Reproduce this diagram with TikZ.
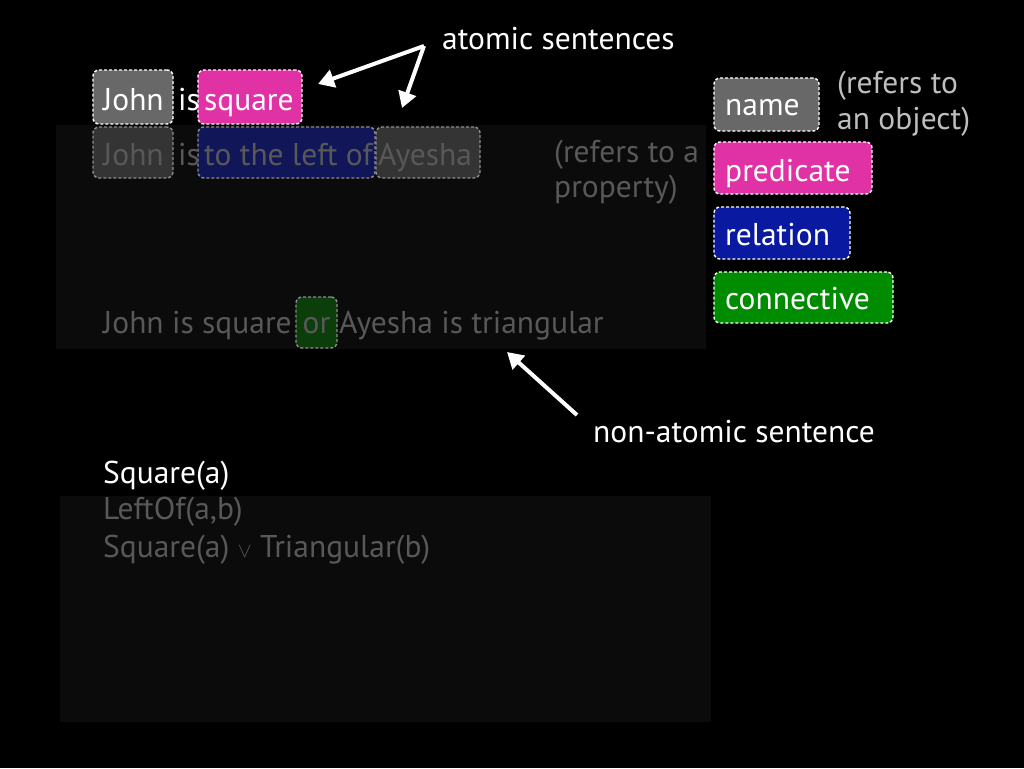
\documentclass[tikz,border=0pt]{standalone}
\usepackage{fontspec}
\setmainfont{PT Sans}
\usetikzlibrary{arrows.meta}
\definecolor{gbox}{RGB}{104,104,104}
\definecolor{mbox}{RGB}{224,50,165}
\definecolor{bbox}{RGB}{10,26,160}
\definecolor{grbox}{RGB}{0,140,0}
\definecolor{dgbox}{RGB}{52,52,52}
\definecolor{dbbox}{RGB}{16,22,88}
\definecolor{dgrbox}{RGB}{12,62,12}
\definecolor{dimtxt}{RGB}{88,88,88}
\definecolor{lighttxt}{RGB}{190,190,190}
\definecolor{panel}{RGB}{11,11,11}
\tikzset{
  txt/.style={font=\fontsize{31.5}{36}\selectfont, inner sep=0pt, anchor=base west},
  hibox/.style={draw=white, rounded corners=6pt, line width=1.4pt,
    dash pattern=on 3pt off 2pt, inner sep=0pt},
  lobox/.style={draw=gray!90, rounded corners=6pt, line width=1.4pt,
    dash pattern=on 3pt off 2pt, inner sep=0pt},
  arr/.style={white, line width=4pt, -{Triangle[length=16pt,width=18pt]}},
}
\begin{document}
\begin{tikzpicture}[x=1pt,y=-1pt]
\fill[black] (0,0) rectangle (1024,768);
\useasboundingbox (0,0) rectangle (1024,768);
\fill[panel] (56,125) rectangle (706,349);
\fill[panel] (60,496) rectangle (711,722);

% boxes
\node[hibox, fill=gbox, minimum width=80pt, minimum height=54pt] (bj1) at (133,97) {};
\node[hibox, fill=mbox, minimum width=104pt, minimum height=54pt] (bsq) at (250,97) {};
\node[lobox, fill=dgbox, minimum width=80pt, minimum height=51pt] (bj2) at (133,152.5) {};
\node[lobox, fill=dbbox, minimum width=177pt, minimum height=51pt] (blo) at (286.5,152.5) {};
\node[lobox, fill=dgbox, minimum width=104pt, minimum height=51pt] (bay) at (428,152.5) {};
\node[hibox, fill=gbox, minimum width=105pt, minimum height=53pt] (bname) at (766.5,104.5) {};
\node[hibox, fill=mbox, minimum width=158pt, minimum height=52pt] (bpred) at (793,168) {};
\node[hibox, fill=bbox, minimum width=136pt, minimum height=52pt] (brel) at (782,233) {};
\node[hibox, fill=grbox, minimum width=179pt, minimum height=51pt] (bcon) at (803.5,297.5) {};
\node[lobox, fill=dgrbox, minimum width=41pt, minimum height=51pt] (bor) at (316.5,322.5) {};

% top sentence
\node[txt, text=white] (j1) at (103,110) {John};
\node[txt, text=white] (is1) at (178,110) {is};
\node[txt, text=white] (sq) at (204,110) {square};

% second sentence
\node[txt, text=dimtxt] (j2) at (103,165) {John};
\node[txt, text=dimtxt] (is2) at (178,165) {is};
\node[txt, text=dimtxt] (lo) at (204,165) {to the left of};
\node[txt, text=dimtxt] (ay) at (378,165) {Ayesha};

\node[txt, text=dimtxt] (prop1) at (554,162) {(refers to a};
\node[txt, text=dimtxt] (prop2) at (554,197) {property)};

% legend
\node[txt, text=white] (name) at (725,115) {name};
\node[txt, text=lighttxt] (obj1) at (837,93) {(refers to};
\node[txt, text=lighttxt] (obj2) at (837,129) {an object)};
\node[txt, text=white] (pred) at (725,181) {predicate};
\node[txt, text=white] (rel) at (725,245) {relation};
\node[txt, text=white] (con) at (725,309) {connective};

% compound sentence
\node[txt, text=dimtxt] (comp1) at (103,333) {John is square};
\node[txt, text=dimtxt, anchor=base] (or) at (316.5,333) {or};
\node[txt, text=dimtxt] (comp2) at (339,333) {Ayesha is triangular};

% labels and arrows
\node[txt, text=white] (atomic) at (442,49) {atomic sentences};
\coordinate (apex) at (424,46);
\coordinate (t1) at (318,84);
\coordinate (t2) at (402,108);
\draw[arr] (apex) -- (t1);
\draw[arr] (apex) -- (t2);

\node[txt, text=white] (nonat) at (593,442) {non-atomic sentence};
\coordinate (s3) at (577,415);
\coordinate (t3) at (507,352);
\draw[arr] (s3) -- (t3);

% formulas
\node[txt, text=white] (f1) at (103,483) {Square(a)};
\node[txt, text=dimtxt] (f2) at (103,519) {LeftOf(a,b)};
\node[txt, text=dimtxt] (f3) at (103,557) {Square(a) {\fontsize{22}{22}\selectfont$\vee$} Triangular(b)};
\end{tikzpicture}
\end{document}
